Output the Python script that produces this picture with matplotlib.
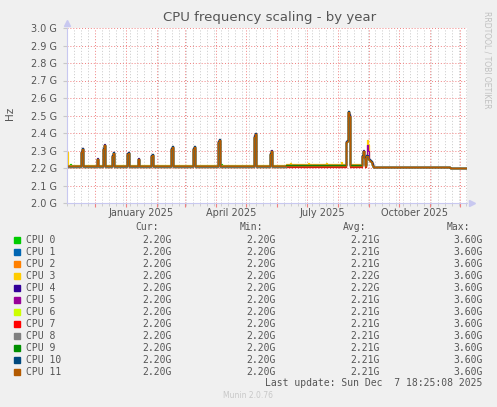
import numpy as np
import pandas as pd
import matplotlib
matplotlib.use("Agg")
import matplotlib.pyplot as plt
import matplotlib.dates as mdates
from matplotlib.patches import Rectangle
from matplotlib.ticker import MultipleLocator, FuncFormatter

W, H = 497, 407

cpu_names = ["CPU %d" % i for i in range(12)]
cpu_colors = ["#00CC00", "#0066B3", "#FF8000", "#FFCC00", "#330099", "#990099",
              "#CCFF00", "#FF0000", "#808080", "#008F00", "#00487D", "#B35A00"]

# legend statistics
cur_vals = ["2.20G"] * 12
min_vals = ["2.20G"] * 12
avg_vals = ["2.21G", "2.21G", "2.21G", "2.22G", "2.22G", "2.21G",
            "2.21G", "2.21G", "2.21G", "2.21G", "2.21G", "2.21G"]
max_vals = ["3.60G"] * 12

# daily averages, GHz
first_day = "2024-11-03"
last_day = "2025-12-07"
period_starts = ["2024-11-03", "2025-06-10", "2025-09-05", "2025-11-21"]
base_levels = [
    [2.209, 2.216, 2.205, 2.200],  # CPU 0
    [2.208, 2.215, 2.205, 2.200],  # CPU 1
    [2.213, 2.218, 2.205, 2.200],  # CPU 2
    [2.215, 2.224, 2.205, 2.200],  # CPU 3
    [2.210, 2.217, 2.205, 2.200],  # CPU 4
    [2.209, 2.216, 2.205, 2.200],  # CPU 5
    [2.208, 2.214, 2.205, 2.200],  # CPU 6
    [2.207, 2.207, 2.205, 2.200],  # CPU 7
    [2.208, 2.212, 2.205, 2.200],  # CPU 8
    [2.209, 2.215, 2.205, 2.200],  # CPU 9
    [2.209, 2.213, 2.205, 2.200],  # CPU 10
    [2.211, 2.212, 2.205, 2.200],  # CPU 11
]

# spikes seen by all cores: first day -> consecutive daily values
spikes = {
    "2024-11-17": [2.29, 2.31],
    "2024-12-03": [2.25],
    "2024-12-09": [2.31, 2.33],
    "2024-12-18": [2.27, 2.285],
    "2025-01-02": [2.28, 2.285],
    "2025-01-13": [2.25],
    "2025-01-26": [2.27, 2.275],
    "2025-02-15": [2.31, 2.32],
    "2025-03-09": [2.31, 2.32],
    "2025-04-03": [2.35, 2.36],
    "2025-05-09": [2.38, 2.395],
    "2025-05-25": [2.28, 2.295],
    "2025-08-09": [2.35, 2.355, 2.52, 2.50],
    "2025-08-25": [2.27, 2.295, 2.26],
    "2025-08-29": [2.27, 2.27, 2.25, 2.245, 2.24, 2.235, 2.22],
}
spike_lift = [0.0, 0.0, 0.0, 0.003, 0.006, 0.002, 0.0, 0.0, 0.0, 0.0, 0.004, 0.0]

# single-core excursions
cpu_extra = {
    3: {"2024-11-03": 2.29, "2025-08-04": 2.235, "2025-08-30": 2.36,
        "2025-08-31": 2.33, "2025-07-02": 2.23, "2025-06-14": 2.228,
        "2025-07-20": 2.23},
    5: {"2025-08-30": 2.33, "2025-08-31": 2.30},
    0: {"2024-11-06": 2.222, "2025-04-06": 2.222},
    7: {"2025-06-20": 2.212, "2025-07-10": 2.213},
}

days = pd.date_range(first_day, last_day, freq="D")
series = []
for i in range(12):
    v = np.zeros(len(days))
    for k, ps in enumerate(period_starts):
        v[days >= pd.Timestamp(ps)] = base_levels[i][k]
    for d0, vals in spikes.items():
        for j, val in enumerate(vals):
            idx = days.get_loc(pd.Timestamp(d0) + pd.Timedelta(days=j))
            v[idx] = val + spike_lift[i]
    for d, val in cpu_extra.get(i, {}).items():
        v[days.get_loc(pd.Timestamp(d))] = val
    series.append(v)

fig = plt.figure(figsize=(W / 100, H / 100), dpi=100, facecolor="#F0F0F0")
ax = fig.add_axes([67 / W, 1 - 203 / H, 400 / W, 175 / H])
ax.set_facecolor("white")

for i in range(12):
    ax.plot(days, series[i], color=cpu_colors[i], lw=0.9, drawstyle="steps-post")

ax.set_xlim(pd.Timestamp("2024-11-02 18:25"), pd.Timestamp("2025-12-07 18:25"))
ax.set_ylim(2.0, 3.0)

ax.yaxis.set_major_locator(MultipleLocator(0.1))
ax.yaxis.set_major_formatter(FuncFormatter(lambda y, p: "%.1f G" % y))
ax.xaxis.set_major_locator(mdates.MonthLocator())
ax.xaxis.set_minor_locator(mdates.WeekdayLocator(byweekday=mdates.SU))
ax.xaxis.set_major_formatter(plt.NullFormatter())

ax.grid(True, which="major", axis="both", color="#F08080", lw=0.7, ls=(0, (1, 2)))
ax.grid(True, which="minor", axis="x", color="#C8C8C8", lw=0.7, ls=(0, (1, 2)))
ax.set_axisbelow(True)

for s in ["top", "right"]:
    ax.spines[s].set_visible(False)
for s in ["left", "bottom"]:
    ax.spines[s].set_color("#C8C8F0")
    ax.spines[s].set_linewidth(0.8)

ax.tick_params(axis="y", length=3, color="#C8C8C8", labelsize=7, labelcolor="#555555", pad=4)
ax.tick_params(axis="x", which="major", length=3, color="#F08080")
ax.tick_params(axis="x", which="minor", length=2, color="#C8C8C8")

# month labels centred on mid-month
for lab in ["2025-01-16", "2025-04-16", "2025-07-16", "2025-10-16"]:
    t = pd.Timestamp(lab)
    ax.text(t, -0.055, t.strftime("%B %Y"), transform=ax.get_xaxis_transform(),
            ha="center", va="center", fontsize=7, color="#555555")

# axis arrows
ax.plot([0], [1.03], marker="^", ms=4, color="#C8C8F0", transform=ax.transAxes, clip_on=False)
ax.plot([1.012], [0], marker=">", ms=4, color="#C8C8F0", transform=ax.transAxes, clip_on=False)

fig.text(270 / W, 1 - 18 / H, "CPU frequency scaling - by year", ha="center", va="center",
         fontsize=9.5, color="#555555")
fig.text(10 / W, 1 - 113 / H, "Hz", rotation=90, ha="center", va="center",
         fontsize=7.5, color="#555555")
fig.text(487 / W, 1 - 60 / H, "RRDTOOL / TOBI OETIKER", rotation=270, ha="center",
         va="center", fontsize=5.5, color="#C0C0C0")

mono = dict(family="DejaVu Sans Mono", fontsize=7, color="#555555", va="center")
heads = [("Cur:", 159.3), ("Min:", 262.7), ("Avg:", 366.7), ("Max:", 470.0)]
for h, x in heads:
    fig.text(x / W, 1 - 227.3 / H, h, ha="right", **mono)
cols = [(cur_vals, 171.7), (min_vals, 275.3), (avg_vals, 379.3), (max_vals, 482.7)]
for i in range(12):
    y = 240.0 + 12.0 * i
    fig.add_artist(Rectangle((14 / W, 1 - (y + 3) / H), 6 / W, 6 / H,
                             transform=fig.transFigure, color=cpu_colors[i]))
    fig.text(26.3 / W, 1 - y / H, cpu_names[i], ha="left", **mono)
    for vals, x in cols:
        fig.text(x / W, 1 - y / H, vals[i], ha="right", **mono)

fig.text(482.7 / W, 1 - 383.3 / H, "Last update: Sun Dec  7 18:25:08 2025", ha="right", **mono)
fig.text(248 / W, 1 - 396 / H, "Munin 2.0.76", ha="center", va="center",
         fontsize=5.5, color="#C8C8C8")

fig.savefig("out.png", dpi=100, facecolor=fig.get_facecolor())
